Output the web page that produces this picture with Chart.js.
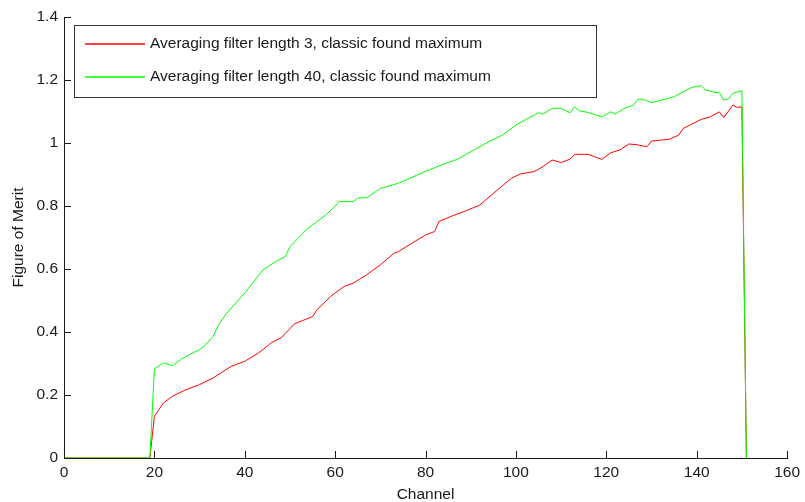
<!DOCTYPE html>
<html>
<head>
<meta charset="utf-8">
<script src="https://cdn.jsdelivr.net/npm/chart.js@4/dist/chart.umd.min.js"></script>
<style>
  html, body { margin: 0; padding: 0; background: #fff; }
  #wrap { width: 805px; height: 502px; }
</style>
</head>
<body>
<div id="wrap"><canvas id="fom"></canvas></div>
<script>
"use strict";

// Values (channel, figure of merit).
const redLabel = "Averaging filter length 3, classic found maximum";
const redCh = [0, 19, 20, 22, 24, 27, 30, 33, 37, 40, 43, 46, 48, 51, 55, 56, 59, 62, 64, 67,
  70, 73, 74, 77, 80, 82, 83, 86, 89, 92, 95, 99, 101, 104, 106, 108, 110, 112, 113, 116,
  119, 121, 123, 125, 127, 129, 130, 134, 136, 137, 141, 143, 145, 146, 148, 149, 150, 151];
const redFom = [0, 0, 0.132, 0.175, 0.196, 0.217, 0.233, 0.254, 0.291, 0.307, 0.333, 0.367, 0.381, 0.426, 0.449, 0.471, 0.513, 0.545, 0.555, 0.582,
  0.613, 0.650, 0.655, 0.682, 0.708, 0.719, 0.751, 0.769, 0.785, 0.803, 0.840, 0.888, 0.902, 0.909, 0.925, 0.946, 0.938, 0.949, 0.964, 0.964,
  0.948, 0.969, 0.978, 0.997, 0.994, 0.988, 1.006, 1.012, 1.025, 1.046, 1.075, 1.083, 1.099, 1.081, 1.120, 1.113, 1.115, 0];

const greenLabel = "Averaging filter length 40, classic found maximum";
const greenCh = [0, 19, 20, 22, 24, 26, 28, 30, 31, 33, 34, 36, 40, 44, 47, 49, 50, 54, 58, 61,
  64, 65, 67, 70, 74, 79, 84, 87, 91, 94, 97, 100, 102, 105, 106, 108, 110, 112, 113, 114,
  116, 119, 121, 122, 124, 126, 127, 128, 130, 133, 135, 137, 139, 141, 142, 144, 145, 146, 147, 148,
  150, 151];
const greenFom = [0, 0, 0.283, 0.302, 0.293, 0.314, 0.330, 0.344, 0.355, 0.386, 0.418, 0.460, 0.524, 0.597, 0.625, 0.640, 0.671, 0.730, 0.772, 0.814,
  0.814, 0.825, 0.826, 0.856, 0.872, 0.904, 0.933, 0.948, 0.980, 1.004, 1.025, 1.057, 1.073, 1.096, 1.092, 1.110, 1.110, 1.096, 1.115, 1.102,
  1.097, 1.083, 1.099, 1.092, 1.110, 1.120, 1.139, 1.139, 1.128, 1.139, 1.147, 1.163, 1.177, 1.182, 1.168, 1.161, 1.160, 1.136, 1.140, 1.158,
  1.166, 0];

const xTickLabels = ["0", "20", "40", "60", "80", "100", "120", "140", "160"];
const yTickLabels = ["0", "0.2", "0.4", "0.6", "0.8", "1", "1.2", "1.4"];

const FONT = { family: "'Liberation Sans', Arial, sans-serif", size: 15.5 };
const INK = "#1a1a1a";

const pts = (xs, ys) => xs.map((x, i) => ({ x, y: ys[i] }));

// MATLAB-style inward tick marks on left and bottom axes.
const inwardTicks = {
  id: "inwardTicks",
  afterDatasetsDraw(chart) {
    const { ctx, chartArea: a, scales: { x, y } } = chart;
    ctx.save();
    ctx.strokeStyle = INK;
    ctx.lineWidth = 1;
    ctx.beginPath();
    x.ticks.forEach((t) => {
      const px = Math.round(x.getPixelForValue(t.value)) + 0.5;
      ctx.moveTo(px, a.bottom);
      ctx.lineTo(px, a.bottom - 7);
    });
    y.ticks.forEach((t) => {
      const py = Math.round(y.getPixelForValue(t.value)) + 0.5;
      ctx.moveTo(a.left, py);
      ctx.lineTo(a.left + 7, py);
    });
    ctx.stroke();
    ctx.restore();
  },
};

// Boxed legend inside the axes, top-left.
const boxLegend = {
  id: "boxLegend",
  afterDraw(chart) {
    const { ctx, chartArea: a } = chart;
    const bx = a.left + 10, by = a.top + 8, bw = 522, bh = 72;
    ctx.save();
    ctx.fillStyle = "#fff";
    ctx.fillRect(bx, by, bw, bh);
    ctx.strokeStyle = "#333";
    ctx.lineWidth = 1;
    ctx.strokeRect(Math.round(bx) + 0.5, Math.round(by) + 0.5, bw, bh);
    ctx.font = `${FONT.size}px ${FONT.family}`;
    ctx.textBaseline = "middle";
    chart.data.datasets.forEach((ds, i) => {
      const ry = Math.round(by + 19 + i * 33);
      ctx.strokeStyle = ds.borderColor;
      ctx.lineWidth = 1.5;
      ctx.beginPath();
      ctx.moveTo(bx + 11, ry);
      ctx.lineTo(bx + 71, ry);
      ctx.stroke();
      ctx.fillStyle = INK;
      ctx.fillText(ds.label, bx + 76, ry);
    });
    ctx.restore();
  },
};

new Chart(document.getElementById("fom"), {
  type: "line",
  data: {
    datasets: [
      { label: redLabel, data: pts(redCh, redFom), borderColor: "#ff0000",
        borderWidth: 1, pointRadius: 0, tension: 0, order: 2 },
      { label: greenLabel, data: pts(greenCh, greenFom), borderColor: "#00ff00",
        borderWidth: 1, pointRadius: 0, tension: 0, order: 1 },
    ],
  },
  options: {
    responsive: true, maintainAspectRatio: false, animation: false,
    layout: { padding: { top: 17, right: 13, left: 0, bottom: 0 } },
    plugins: { legend: { display: false }, tooltip: { enabled: false } },
    scales: {
      x: {
        type: "linear", min: 0, max: 160,
        afterFit: (s) => { s.height = 44; },
        grid: { display: false, drawTicks: false },
        border: { display: true, color: INK, width: 1 },
        ticks: { stepSize: 20, color: INK, font: FONT, padding: 5, maxRotation: 0,
          callback: (v) => xTickLabels[v / 20] },
        title: { display: true, text: "Channel", color: INK, font: FONT, padding: { top: 0, bottom: -2 } },
      },
      y: {
        type: "linear", min: 0, max: 1.4,
        afterFit: (s) => { s.width = 64; },
        grid: { display: false, drawTicks: false },
        border: { display: true, color: INK, width: 1 },
        ticks: { stepSize: 0.2, color: INK, font: FONT, padding: 6,
          callback: (v) => yTickLabels[Math.round(v / 0.2)] },
        title: { display: true, text: "Figure of Merit", color: INK, font: FONT, padding: { top: 9, bottom: 0 } },
      },
    },
  },
  plugins: [inwardTicks, boxLegend],
});
</script>
</body>
</html>
